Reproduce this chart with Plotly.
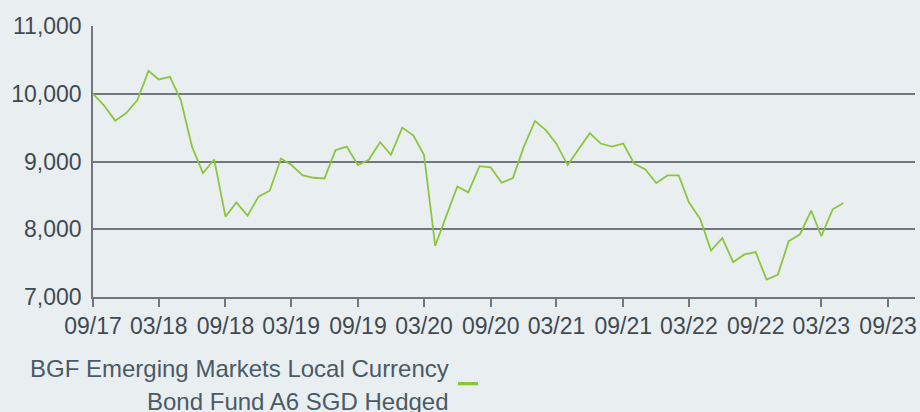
import plotly.graph_objects as go
import pandas as pd

# ---- data ----
months = pd.date_range("2017-09-01", "2023-05-01", freq="MS")
values = [
    10000, 9830, 9603, 9712,
    9903, 10338, 10211, 10250, 9907, 9216, 8829, 9030, 8187, 8397, 8201, 8481,
    8569, 9044, 8951, 8799, 8760, 8750, 9167, 9221, 8947, 9025, 9285, 9099,
    9500, 9382, 9099, 7756, 8190, 8632, 8544, 8932, 8912, 8687, 8756, 9216,
    9599, 9456, 9260, 8947, 9182, 9418, 9265, 9221, 9265, 8971, 8882, 8682,
    8794, 8794, 8397, 8152, 7686, 7868, 7515, 7628, 7662, 7256, 7328, 7824,
    7926, 8275, 7897, 8294, 8388,
]
series_name_lines = ["BGF Emerging Markets Local Currency", "Bond Fund A6 SGD Hedged"]
y_range = [7000, 11000]
x_range = ["2017-09-01", "2023-11-14"]

# ---- styles ----
BG = "#e9eef1"
GRID = "#71777c"
GREEN = "#8cc63f"
TXT = "#3f4a51"
LEG_TXT = "#4a5a66"
FONT = "Liberation Sans, Arial, sans-serif"

W, H = 920, 412
ML, MR, MT, MB = 93, 5, 26, 115
PW, PH = W - ML - MR, H - MT - MB

fig = go.Figure()
fig.add_trace(go.Scatter(
    x=months, y=values, mode="lines", name=" ".join(series_name_lines),
    line=dict(color=GREEN, width=1.8), showlegend=False,
))

fig.update_layout(
    width=W, height=H,
    margin=dict(l=ML, r=MR, t=MT, b=MB, pad=0, autoexpand=False),
    paper_bgcolor=BG, plot_bgcolor=BG,
    font=dict(family=FONT, color=TXT, size=23),
)
fig.update_yaxes(
    range=y_range, dtick=1000, tickformat=",", showgrid=True,
    gridcolor=GRID, gridwidth=1.5, showline=True, linecolor=GRID, linewidth=1.5,
    ticks="", zeroline=False, ticklabelstandoff=5, automargin=False,
    tickfont=dict(size=23, color=TXT),
)
fig.update_xaxes(
    type="date", range=x_range, tick0="2017-09-01", dtick="M6",
    tickformat="%m/%y", showgrid=False, showline=True, linecolor=GRID,
    linewidth=1.5, ticks="outside", ticklen=8, tickwidth=1.5, tickcolor=GRID,
    tickfont=dict(size=23, color=TXT), zeroline=False, automargin=False,
)

# legend drawn as text + swatch (text left, swatch right as in the reference)
def px_x(px):
    return (px - ML) / PW

def px_y(py):
    return (H - MB - py) / PH

line_centers = [368.5, 401.0]
for txt, yc in zip(series_name_lines, line_centers):
    fig.add_annotation(
        xref="paper", yref="paper", x=px_x(451), y=px_y(yc),
        xanchor="right", yanchor="middle", text=txt, showarrow=False,
        font=dict(family=FONT, size=24, color=LEG_TXT), align="right",
    )
fig.add_shape(
    type="rect", xref="paper", yref="paper",
    x0=px_x(458), x1=px_x(478), y0=px_y(385.3), y1=px_y(382),
    fillcolor=GREEN, line=dict(width=0),
)

fig.write_html(
    "out.html",
    config={"displayModeBar": False},
    post_script="document.body.style.margin='0';document.body.style.background='%s';" % BG,
)
